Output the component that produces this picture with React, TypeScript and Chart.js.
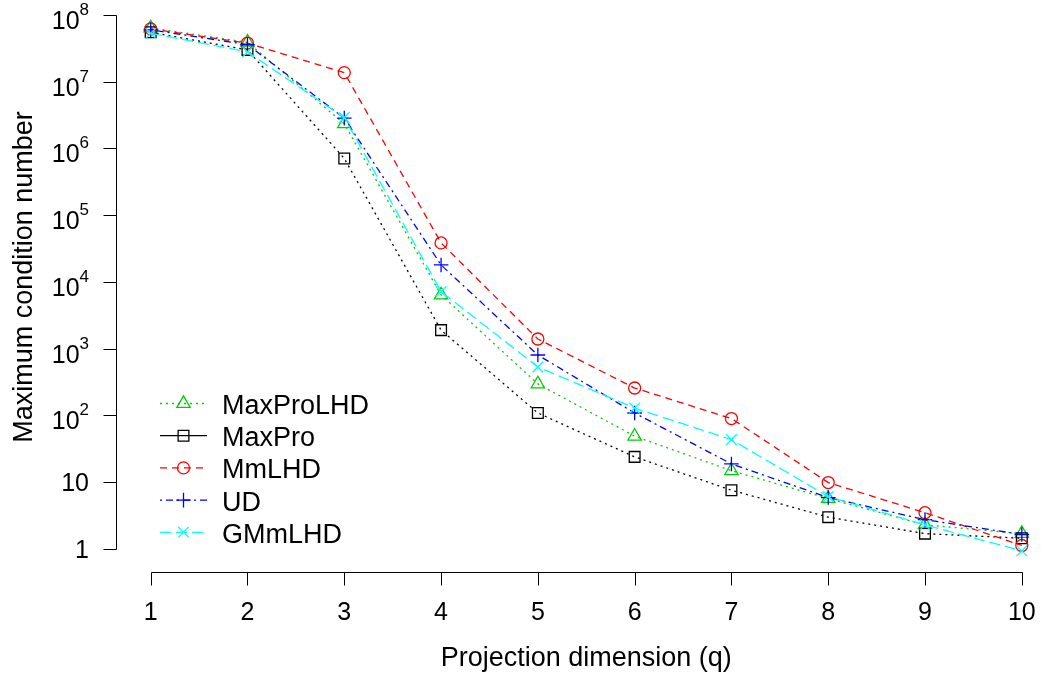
import { useEffect, useRef } from "react";
import { Chart, registerables } from "chart.js";
import { drawPoint } from "chart.js/helpers";

Chart.register(...registerables);

// ---- Data ----
const X_VALUES = [1, 2, 3, 4, 5, 6, 7, 8, 9, 10];

const MAXPROLHD = [6.4e7, 3.9e7, 2.35e6, 6.4e3, 297, 49, 14.9, 5.7, 2.3, 1.7];
const MAXPRO = [5.5e7, 3.0e7, 7.1e5, 1.9e3, 109, 24, 7.6, 3.0, 1.7, 1.45];
const MMLHD = [6.2e7, 3.8e7, 1.37e7, 3.85e4, 1.4e3, 258, 90, 9.9, 3.5, 1.13];
const UD = [6.0e7, 3.6e7, 2.85e6, 1.8e4, 806, 109, 18.8, 5.9, 2.75, 1.65];
const GMMLHD = [5.3e7, 2.8e7, 2.9e6, 7.2e3, 533, 129, 43.5, 6.1, 2.3, 0.94];

const SERIES_LABELS = ["MaxProLHD", "MaxPro", "MmLHD", "UD", "GMmLHD"];
const SERIES_VALUES = [MAXPROLHD, MAXPRO, MMLHD, UD, GMMLHD];

const X_TICKS = [1, 2, 3, 4, 5, 6, 7, 8, 9, 10];
const X_TICK_LABELS = ["1", "2", "3", "4", "5", "6", "7", "8", "9", "10"];
const Y_TICKS = [1, 10, 100, 1e3, 1e4, 1e5, 1e6, 1e7, 1e8];
const Y_TICK_BASES = ["1", "10", "10", "10", "10", "10", "10", "10", "10"];
const Y_TICK_EXPS = ["", "", "2", "3", "4", "5", "6", "7", "8"];

const X_TITLE = "Projection dimension (q)";
const Y_TITLE = "Maximum condition number";

// ---- Styles ----
const COLORS = ["#00cd00", "#000000", "#ff0000", "#0000ff", "#00ffff"];
const LINE_DASH = [[2, 4], [2, 4], [7, 5], [2, 4, 7, 4], [11, 5]];
const LEGEND_DASH = [[2, 4], [], [7, 5], [2, 4, 7, 4], [11, 5]];
const POINT_STYLES = ["triangle", "rect", "circle", "cross", "crossRot"];
const POINT_RADII = [7.7, 7.6, 6, 7.3, 7.5];

const FONT = "'Liberation Sans', Arial, Helvetica, sans-serif";

const X_MIN = 0.6415;
const X_MAX = 10.188;
const Y_MIN = Math.pow(10, -0.3446);
const Y_MAX = Math.pow(10, 8.2247);

const axesPlugin = {
  id: "rStyleAxes",
  afterDraw(chart: any) {
    const ctx: CanvasRenderingContext2D = chart.ctx;
    const xs = chart.scales.x;
    const ys = chart.scales.y;
    const area = chart.chartArea;
    ctx.save();
    ctx.strokeStyle = "#000";
    ctx.fillStyle = "#000";
    ctx.lineWidth = 1;
    ctx.setLineDash([]);

    // X axis
    const yb = Math.round(area.bottom) + 0.5;
    const xFirst = xs.getPixelForValue(X_TICKS[0]);
    const xLast = xs.getPixelForValue(X_TICKS[X_TICKS.length - 1]);
    ctx.beginPath();
    ctx.moveTo(Math.round(xFirst) + 0.5, yb);
    ctx.lineTo(Math.round(xLast) + 0.5, yb);
    X_TICKS.forEach((v) => {
      const px = Math.round(xs.getPixelForValue(v)) + 0.5;
      ctx.moveTo(px, yb);
      ctx.lineTo(px, yb + 13);
    });
    ctx.stroke();
    ctx.font = `25px ${FONT}`;
    ctx.textAlign = "center";
    ctx.textBaseline = "alphabetic";
    X_TICKS.forEach((v, i) => {
      ctx.fillText(X_TICK_LABELS[i], xs.getPixelForValue(v), area.bottom + 48);
    });

    // Y axis
    const xl = Math.round(area.left) + 0.5;
    const yFirst = ys.getPixelForValue(Y_TICKS[0]);
    const yLast = ys.getPixelForValue(Y_TICKS[Y_TICKS.length - 1]);
    ctx.beginPath();
    ctx.moveTo(xl, Math.round(yFirst) + 0.5);
    ctx.lineTo(xl, Math.round(yLast) + 0.5);
    Y_TICKS.forEach((v) => {
      const py = Math.round(ys.getPixelForValue(v)) + 0.5;
      ctx.moveTo(xl, py);
      ctx.lineTo(xl - 13, py);
    });
    ctx.stroke();
    const labelRight = area.left - 27;
    Y_TICKS.forEach((v, i) => {
      const py = ys.getPixelForValue(v);
      const exp = Y_TICK_EXPS[i];
      ctx.textAlign = "right";
      if (exp) {
        ctx.font = `17px ${FONT}`;
        const ew = ctx.measureText(exp).width;
        ctx.fillText(exp, labelRight, py);
        ctx.font = `25px ${FONT}`;
        ctx.fillText(Y_TICK_BASES[i], labelRight - ew, py + 14);
      } else {
        ctx.font = `25px ${FONT}`;
        ctx.fillText(Y_TICK_BASES[i], labelRight, py + 9);
      }
    });

    // Titles
    ctx.font = `27px ${FONT}`;
    ctx.textAlign = "center";
    ctx.fillText(X_TITLE, (xFirst + xLast) / 2, area.bottom + 94);
    ctx.save();
    ctx.translate(32, 277);
    ctx.rotate(-Math.PI / 2);
    ctx.fillText(Y_TITLE, 0, 0);
    ctx.restore();

    // Legend
    const lx0 = area.left + 44;
    const lx1 = area.left + 91;
    const lmx = (lx0 + lx1) / 2;
    const ly0 = 403.5;
    const lstep = 32.2;
    SERIES_LABELS.forEach((label, i) => {
      const y = ly0 + i * lstep;
      ctx.strokeStyle = COLORS[i];
      ctx.lineWidth = 1.3;
      ctx.setLineDash(LEGEND_DASH[i]);
      ctx.beginPath();
      ctx.moveTo(lx0, y);
      ctx.lineTo(lx1, y);
      ctx.stroke();
      ctx.setLineDash([]);
      ctx.fillStyle = "rgba(0,0,0,0)";
      drawPoint(ctx, { pointStyle: POINT_STYLES[i], radius: POINT_RADII[i], rotation: 0, borderWidth: 1.3 } as any, lmx, y);
      ctx.fillStyle = "#000";
      ctx.font = `27px ${FONT}`;
      ctx.textAlign = "left";
      ctx.textBaseline = "alphabetic";
      ctx.fillText(label, area.left + 106, y + 10.5);
    });
    ctx.restore();
  },
};

export default function App() {
  const ref = useRef<HTMLCanvasElement>(null);
  useEffect(() => {
    document.body.style.margin = "0";
    const datasets = SERIES_LABELS.map((label, i) => ({
      label,
      data: X_VALUES.map((x, j) => ({ x, y: SERIES_VALUES[i][j] })),
      borderColor: COLORS[i],
      borderWidth: 1.3,
      borderDash: LINE_DASH[i],
      pointStyle: POINT_STYLES[i],
      pointRadius: POINT_RADII[i],
      pointBorderColor: COLORS[i],
      pointBackgroundColor: "rgba(0,0,0,0)",
      pointBorderWidth: 1.3,
      fill: false,
      tension: 0,
      clip: false as any,
      order: SERIES_LABELS.length - i,
    }));
    const chart = new Chart(ref.current as HTMLCanvasElement, {
      type: "line",
      data: { datasets },
      options: {
        responsive: false,
        animation: false,
        devicePixelRatio: 1,
        layout: { autoPadding: false, padding: { left: 116, right: 4, top: 0, bottom: 111 } },
        plugins: { legend: { display: false }, tooltip: { enabled: false } },
        scales: {
          x: { type: "linear", display: false, min: X_MIN, max: X_MAX },
          y: { type: "logarithmic", display: false, min: Y_MIN, max: Y_MAX },
        },
      },
      plugins: [axesPlugin],
    });
    return () => chart.destroy();
  }, []);
  return (
    <div style={{ position: "absolute", left: 0, top: 0, width: 1044, height: 683, background: "#fff" }}>
      <canvas ref={ref} width={1044} height={683} style={{ display: "block", width: 1044, height: 683 }} />
    </div>
  );
}
